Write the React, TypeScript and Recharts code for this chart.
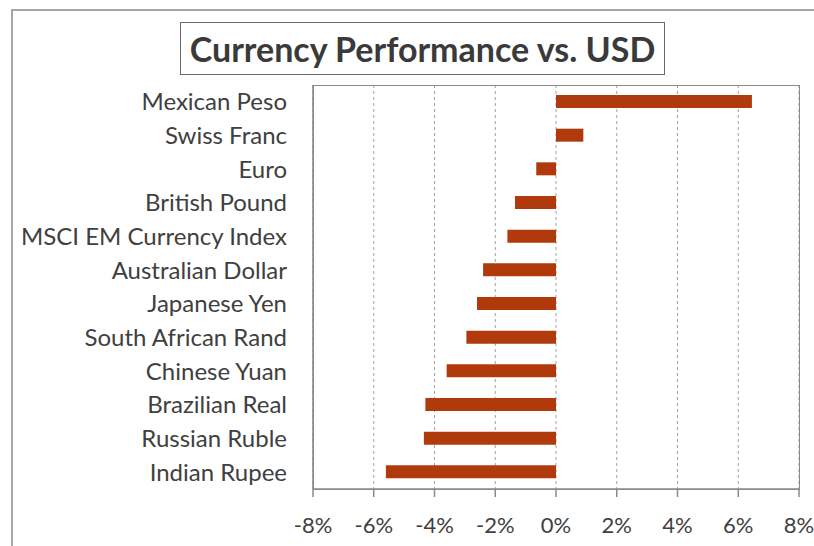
import React from "react";
import { BarChart, Bar, XAxis, YAxis, CartesianGrid } from "recharts";

const categories = [
  "Mexican Peso",
  "Swiss Franc",
  "Euro",
  "British Pound",
  "MSCI EM Currency Index",
  "Australian Dollar",
  "Japanese Yen",
  "South African Rand",
  "Chinese Yuan",
  "Brazilian Real",
  "Russian Ruble",
  "Indian Rupee",
];
const values = [6.45, 0.9, -0.65, -1.35, -1.6, -2.4, -2.6, -2.95, -3.6, -4.3, -4.35, -5.6];
const xTicks = [-8, -6, -4, -2, 0, 2, 4, 6, 8];
const title = "Currency Performance vs. USD";

const data = categories.map((name, i) => ({ name, value: values[i] }));

const FONT = "Lato, 'Open Sans', sans-serif";
const TEXT = "#404040";
const BORDER = "#8a8a8a";

export default function App() {
  return (
    <div
      style={{
        position: "absolute",
        left: 0,
        top: 0,
        width: 814,
        height: 546,
        overflow: "hidden",
        background: "#fff",
        fontFamily: FONT,
      }}
    >
      <div
        style={{
          position: "absolute",
          left: 11,
          top: 9,
          width: 900,
          height: 700,
          border: "2px solid #a6a6a6",
          boxSizing: "border-box",
        }}
      />
      <div
        style={{
          position: "absolute",
          left: 180,
          top: 22,
          width: 485,
          height: 53,
          border: "1.5px solid #6a6a6a",
          boxSizing: "border-box",
          display: "flex",
          alignItems: "center",
          justifyContent: "center",
          fontSize: 34,
          fontWeight: 700,
          color: "#3a3a3a",
          fontFamily: FONT,
          whiteSpace: "nowrap",
        }}
      >
        {title}
      </div>
      <div style={{ position: "absolute", left: 0, top: 0 }}>
        <BarChart
          width={814}
          height={546}
          data={data}
          layout="vertical"
          margin={{ top: 85, right: 15, bottom: 0, left: 0 }}
          barSize={13}
        >
          <CartesianGrid
            xAxisId="bottom"
            yAxisId="left"
            horizontal={false}
            vertical={true}
            stroke="#a0a0a0"
            strokeDasharray="3 3"
          />
          <XAxis
            type="number"
            xAxisId="bottom"
            domain={[-8, 8]}
            ticks={xTicks}
            tickFormatter={(v: number) => `${v}%`}
            height={57}
            axisLine={{ stroke: BORDER, strokeWidth: 1.5 }}
            tickLine={{ stroke: BORDER, strokeWidth: 1.5 }}
            tickSize={8}
            tickMargin={20}
            tick={{ fill: TEXT, fontSize: 22, fontFamily: FONT }}
            interval={0}
          />
          <YAxis
            type="category"
            dataKey="name"
            yAxisId="left"
            width={313}
            axisLine={{ stroke: BORDER, strokeWidth: 1.5 }}
            tickLine={false}
            tickMargin={20}
            tick={{ fill: TEXT, fontSize: 24, fontFamily: FONT }}
            interval={0}
          />
          <Bar
            dataKey="value"
            xAxisId="bottom"
            yAxisId="left"
            fill="#B03A0C"
            isAnimationActive={false}
          />
        </BarChart>
      </div>
      <div
        style={{
          position: "absolute",
          left: 313,
          top: 85,
          width: 487,
          height: 405,
          border: `1.5px solid ${BORDER}`,
          boxSizing: "border-box",
          pointerEvents: "none",
        }}
      />
    </div>
  );
}
